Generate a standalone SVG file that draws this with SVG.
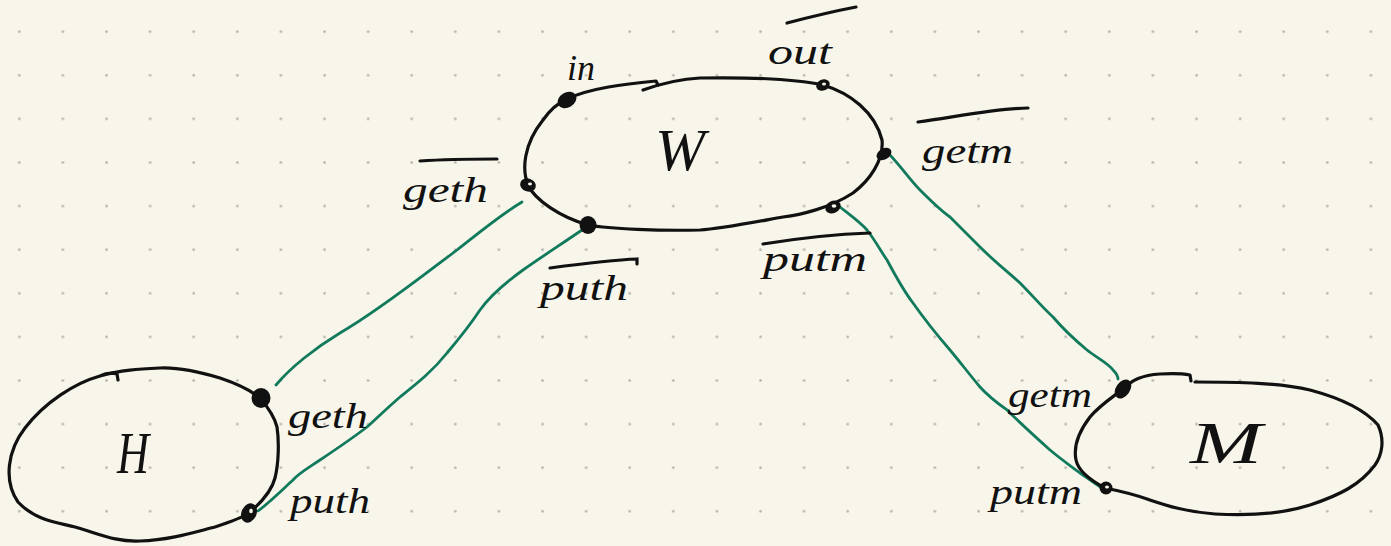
<svg xmlns="http://www.w3.org/2000/svg" width="1391" height="546" viewBox="0 0 1391 546">
<defs>
<pattern id="grid" patternUnits="userSpaceOnUse" x="17.8" y="30.2" width="43.6" height="43.6">
<circle cx="1.5" cy="1.5" r="1.3" fill="#b2b0a8"/>
</pattern>
</defs>
<style>
.outline{fill:none;stroke:#111;stroke-width:3.2;stroke-linecap:round;stroke-linejoin:round}
.bar{fill:none;stroke:#111;stroke-width:3.2;stroke-linecap:round}
.wire{fill:none;stroke:#117a5c;stroke-width:2.8;stroke-linecap:round;stroke-linejoin:round}
.dot{fill:#111}
.hole{fill:#f8f6ea}
.lbl{font-family:"Liberation Serif",serif;font-style:italic;font-size:36px;fill:#111}
.big{font-family:"Liberation Serif",serif;font-style:italic;font-size:60px;fill:#111}
</style>
<rect width="1391" height="546" fill="#f8f6ea"/>
<rect width="1391" height="546" fill="url(#grid)"/>

<g id="connectors">
<path class="wire" d="M522,202 C500,215 470,240 457,250 C430,270 380,310 340,333 C315,348 290,368 276,385"/>
<path class="wire" d="M582,230 C560,245 540,258 523,270 C505,283 490,296 480,310 C470,325 458,340 447,353 C432,372 415,385 400,397 C385,410 375,420 367,427 C350,440 335,450 320,460 C305,470 298,474 293,480 C282,490 270,502 258,511"/>
<path class="wire" d="M888,153 C900,165 910,180 920,190 C930,200 940,210 950,217 C960,227 970,237 980,247 C995,262 1008,272 1020,283 C1032,295 1042,307 1053,317 C1064,330 1075,340 1087,350 C1097,358 1108,363 1113,370 C1117,374 1118,377 1118,379"/>
<path class="wire" d="M840,207 C850,215 860,222 867,230 C875,240 880,250 887,260 C895,275 903,290 913,303 C925,320 937,335 950,350 C960,362 970,375 980,387 C990,398 1000,405 1007,410 C1015,418 1030,432 1050,450 C1062,460 1072,467 1080,473 C1090,480 1097,485 1103,489"/>
</g>

<g id="W">
<path class="outline" d="M567,99 C590,88 625,84 656,81 L658,85"/>
<path class="outline" d="M643,90 C660,84 680,79 700,78 C760,77 800,80 823,85 C850,93 875,112 882,140 C884,160 870,180 853,193 C830,208 800,215 783,217 C750,223 720,229 700,230 C660,231 610,229 588,225 C560,217 535,200 528,185 C522,170 523,145 543,120 C550,110 558,103 567,99"/>
<ellipse class="dot" cx="567" cy="100" rx="10" ry="7.5" transform="rotate(-30 567 100)"/>
<ellipse class="dot" cx="823" cy="85" rx="7" ry="5.5" transform="rotate(-25 823 85)"/>
<ellipse class="hole" cx="824" cy="84" rx="2" ry="1.5"/>
<ellipse class="dot" cx="884" cy="154" rx="8" ry="5.5" transform="rotate(-30 884 154)"/>
<ellipse class="dot" cx="833" cy="207" rx="8" ry="6" transform="rotate(-25 833 207)"/>
<ellipse class="hole" cx="834" cy="206" rx="2.4" ry="1.8"/>
<ellipse class="dot" cx="588" cy="225" rx="8.5" ry="9"/>
<ellipse class="dot" cx="528" cy="185" rx="8" ry="6.5" transform="rotate(20 528 185)"/>
<ellipse class="hole" cx="530" cy="184" rx="2" ry="1.4"/>
<text class="big" x="655" y="170" textLength="50" lengthAdjust="spacingAndGlyphs">W</text>
<text class="lbl" x="567" y="80" textLength="28" lengthAdjust="spacingAndGlyphs">in</text>
<text class="lbl" x="768" y="64" textLength="64" lengthAdjust="spacingAndGlyphs">out</text>
<path class="bar" d="M787,23 C810,17 835,11 856,7"/>
<text class="lbl" x="403" y="202" textLength="85" lengthAdjust="spacingAndGlyphs">geth</text>
<path class="bar" d="M420,161 C450,159 475,159 497,159"/>
<text class="lbl" x="540" y="300" textLength="88" lengthAdjust="spacingAndGlyphs">puth</text>
<path class="bar" d="M550,268 C580,264 610,260 637,259 L637,264"/>
<text class="lbl" x="763" y="271" textLength="104" lengthAdjust="spacingAndGlyphs">putm</text>
<path class="bar" d="M763,244 C800,238 840,234 870,233"/>
<text class="lbl" x="922" y="163" textLength="91" lengthAdjust="spacingAndGlyphs">getm</text>
<path class="bar" d="M918,122 C960,116 1000,108 1028,108"/>
</g>

<g id="H">
<path class="outline" d="M118,380 L117,374 C110,372 104,374 100,376 C75,383 45,402 25,428 C8,450 3,480 18,502 C35,520 55,522 75,527 C100,534 115,542 140,541 C170,540 195,532 215,527 C230,522 242,518 249,513 C262,502 272,490 275,478 C279,462 279,440 277,427 C274,415 266,405 260,398 C248,388 235,383 220,378 C200,372 180,367 160,368 C140,369 120,370 100,376"/>
<ellipse class="dot" cx="261" cy="398" rx="9.5" ry="10"/>
<ellipse class="dot" cx="249" cy="513" rx="7.5" ry="10" transform="rotate(25 249 513)"/>
<ellipse class="hole" cx="251" cy="511" rx="1.8" ry="2.2"/>
<text class="big" x="117" y="473" textLength="32" lengthAdjust="spacingAndGlyphs">H</text>
<text class="lbl" x="288" y="428" textLength="80" lengthAdjust="spacingAndGlyphs">geth</text>
<text class="lbl" x="290" y="513" textLength="80" lengthAdjust="spacingAndGlyphs">puth</text>
</g>

<g id="M">
<path class="outline" d="M1123,389 C1132,380 1142,375 1160,374 C1175,373 1185,374 1190,375 L1191,381"/>
<path class="outline" d="M1195,382 C1240,382 1280,383 1310,390 C1340,398 1365,410 1378,425 C1385,440 1382,455 1375,465 C1360,485 1340,495 1310,505 C1285,513 1250,516 1215,514 C1185,512 1165,505 1147,499 C1130,493 1115,490 1105,488 C1090,480 1078,470 1076,460 C1073,445 1080,430 1090,417 C1100,405 1113,397 1123,389"/>
<ellipse class="dot" cx="1123" cy="389" rx="7" ry="10.5" transform="rotate(35 1123 389)"/>
<ellipse class="dot" cx="1106" cy="488" rx="6.5" ry="6.5"/>
<ellipse class="hole" cx="1107" cy="487" rx="2" ry="1.6"/>
<text class="big" x="1190" y="463" textLength="72" lengthAdjust="spacingAndGlyphs">M</text>
<text class="lbl" x="1008" y="407" textLength="84" lengthAdjust="spacingAndGlyphs">getm</text>
<text class="lbl" x="990" y="504" textLength="92" lengthAdjust="spacingAndGlyphs">putm</text>
</g>
</svg>
